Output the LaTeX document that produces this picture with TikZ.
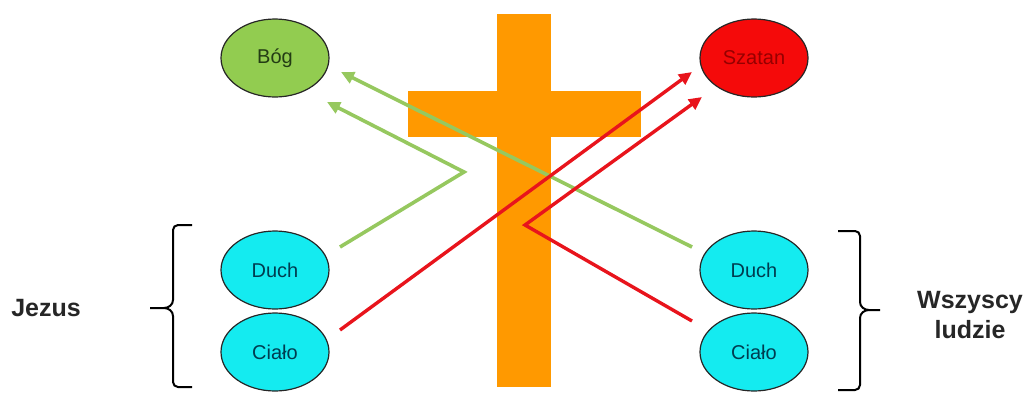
\documentclass[tikz,border=0pt]{standalone}
\usepackage{fontspec}
\setmainfont{Liberation Sans}
\usetikzlibrary{shapes.geometric,arrows.meta}
\definecolor{crossor}{RGB}{255,153,0}
\definecolor{godgreen}{RGB}{146,204,80}
\definecolor{arrgreen}{RGB}{150,200,95}
\definecolor{satred}{RGB}{245,10,10}
\definecolor{arrred}{RGB}{232,20,28}
\definecolor{bodycyan}{RGB}{20,235,240}
\tikzset{
  oval/.style={ellipse, draw=black!85, line width=1.2pt, minimum width=108pt, minimum height=78pt, inner sep=0pt, font=\fontsize{20}{24}\selectfont},
  greenarr/.style={draw=arrgreen, line width=3.6pt, -{Triangle[length=13pt,width=12pt]}},
  redarr/.style={draw=arrred, line width=3.4pt, -{Triangle[length=13pt,width=12pt]}},
  brace/.style={draw=black, line width=2pt},
  label/.style={font=\bfseries\fontsize{25}{30}\selectfont, text=black!85, align=center}
}
\begin{document}
\begin{tikzpicture}[x=1pt,y=-1pt]
\useasboundingbox (0,0) rectangle (1029,392);
% cross
\fill[crossor] (497,14) rectangle (551,387);
\fill[crossor] (408,91) rectangle (641,137);
% nodes
\node[oval, fill=godgreen, text={rgb,255:red,35;green,60;blue,20}] (bog) at (275,58) {Bóg};
\node[oval, fill=satred, text={rgb,255:red,150;green,0;blue,0}] (szatan) at (754,58) {Szatan};
\node[oval, fill=bodycyan, text={rgb,255:red,0;green,60;blue,80}] (lduch) at (275,270) {Duch};
\node[oval, fill=bodycyan, text={rgb,255:red,0;green,60;blue,80}] (lcialo) at (275,352) {Ciało};
\node[oval, fill=bodycyan, text={rgb,255:red,0;green,60;blue,80}] (rduch) at (754,270) {Duch};
\node[oval, fill=bodycyan, text={rgb,255:red,0;green,60;blue,80}] (rcialo) at (754,352) {Ciało};
\node[label] (jezus) at (46,308) {Jezus};
\node[label] (wszyscy) at (970,315) {Wszyscy\\ludzie};
% connector end points
\coordinate (g1s) at (340,247);
\coordinate (g1b) at (464,172);
\coordinate (g1e) at (327,102);
\coordinate (g2s) at (692,247);
\coordinate (g2e) at (341,72);
\coordinate (r1s) at (340,330);
\coordinate (r1e) at (692,72);
\coordinate (r2s) at (692,321);
\coordinate (r2b) at (525,225);
\coordinate (r2e) at (702,97);
% arrows
\draw[greenarr] (g1s) -- (g1b) -- (g1e);
\draw[greenarr] (g2s) -- (g2e);
\draw[redarr] (r1s) -- (r1e);
\draw[redarr] (r2s) -- (r2b) -- (r2e);
% braces
\draw[brace] (192,225) -- (178,225) to[out=180,in=90] (173,230) -- (173,300)
  to[out=-90,in=0] (164,308) -- (150,308);
\draw[brace] (164,308) to[out=0,in=90] (173,316) -- (173,382)
  to[out=-90,in=180] (178,387) -- (192,387);
\draw[brace] (838,231) -- (855,231) to[out=0,in=90] (860,236) -- (860,302)
  to[out=-90,in=180] (869,310) -- (880,310);
\draw[brace] (869,310) to[out=180,in=90] (860,318) -- (860,385)
  to[out=-90,in=0] (855,390) -- (838,390);
\end{tikzpicture}
\end{document}
